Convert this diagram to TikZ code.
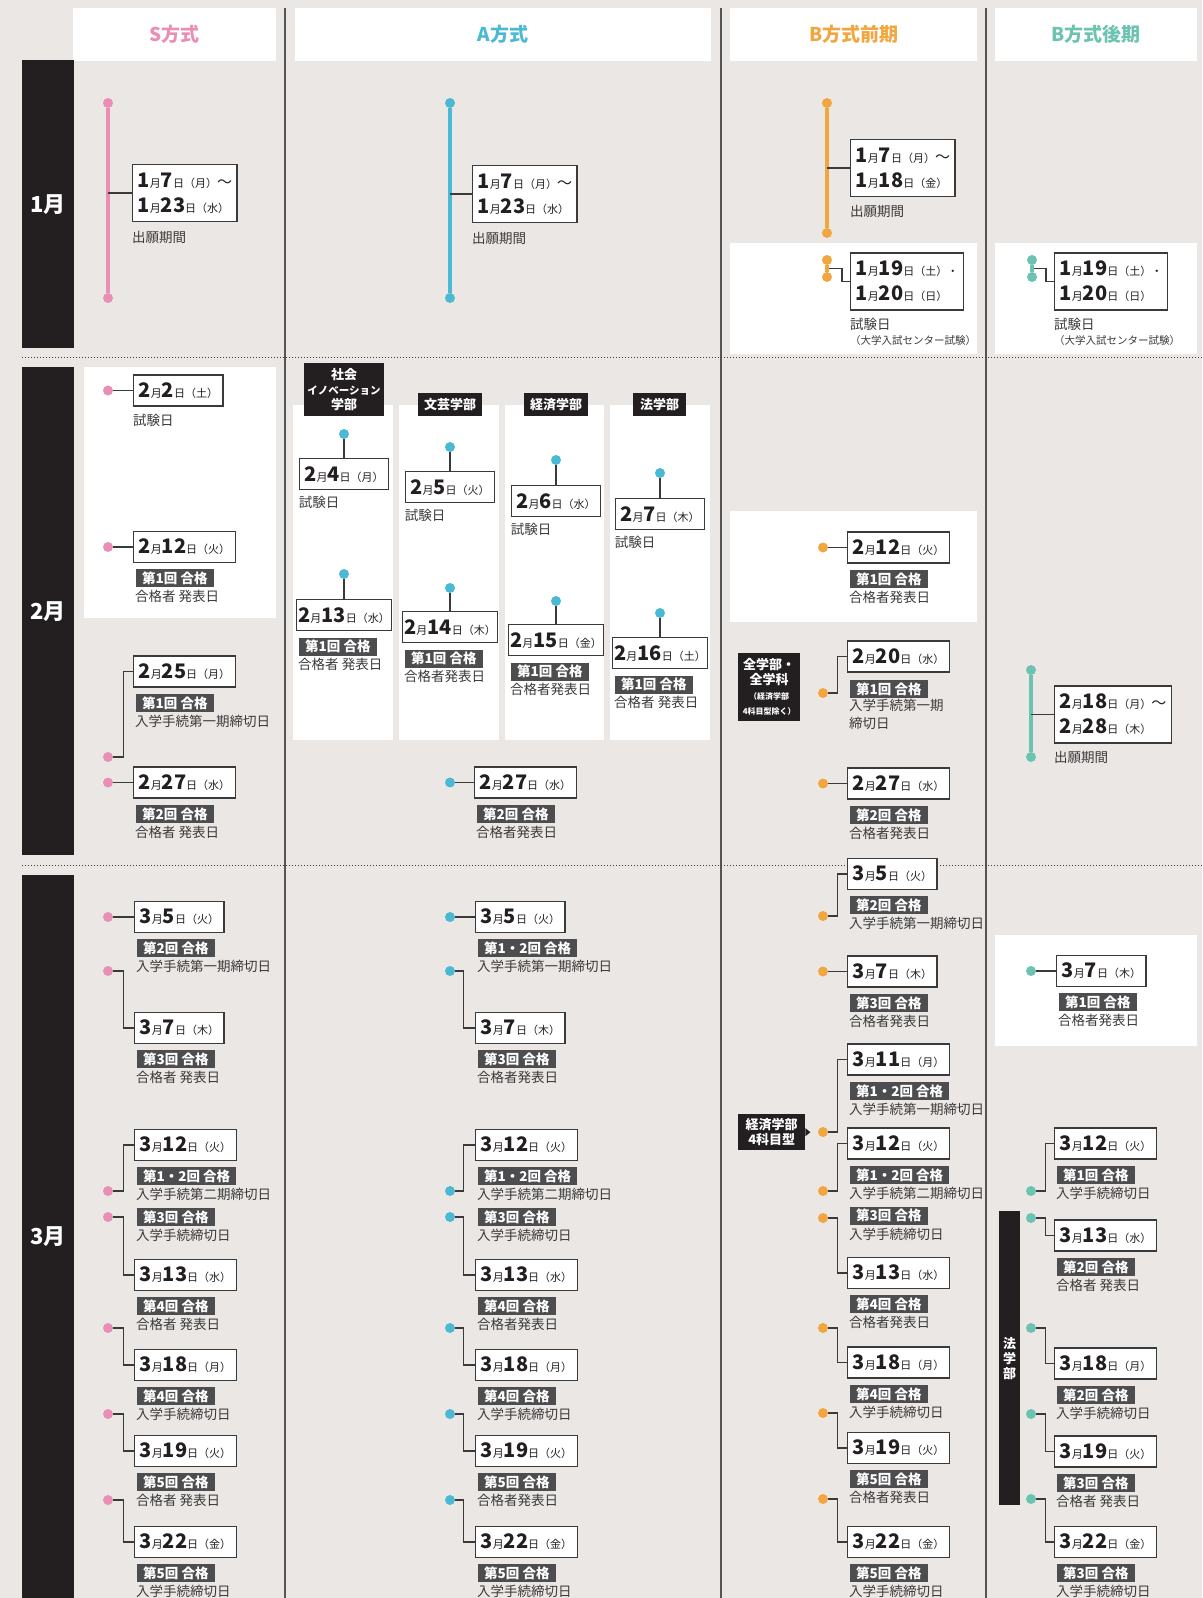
\documentclass[tikz,border=0pt]{standalone}
\usepackage{fontspec}
\setmainfont{Noto Sans CJK JP}
\usetikzlibrary{positioning}

\definecolor{bgc}{HTML}{EBE7E4}
\definecolor{pinkc}{HTML}{E98FB6}
\definecolor{bluec}{HTML}{4BB9D3}
\definecolor{orangec}{HTML}{F2A640}
\definecolor{tealc}{HTML}{6CC3B2}
\definecolor{inkc}{HTML}{231F20}
\definecolor{linec}{HTML}{3A3A3A}
\definecolor{badgec}{HTML}{4D4D4F}
\definecolor{sepc}{HTML}{555555}

\newcommand\dbig{\fontsize{20}{25}\selectfont\bfseries}
\newcommand\dsm{\fontsize{11}{12}\selectfont\mdseries}
\newcommand\jdate[3]{{\dbig #1}{\dsm 月}{\dbig #2}{\dsm 日（#3）}}
\newcommand\jtil{{\fontsize{15}{15}\selectfont\mdseries 〜}}
\newcommand\memofont{\fontsize{13.5}{18}\selectfont}
\newcommand\badgefont{\fontsize{13.5}{14}\selectfont\bfseries}
% badge + note under a date box
\newcommand\passnote[3]{%
  \node[badge] (#1g) at ([xshift=3pt,yshift=-6pt]#1.south west) {#2};
  \node[memo] (#1n) at ([xshift=-1pt,yshift=-9pt]#1g.south west) {#3};}
% second badge + note under the first note
\newcommand\passmore[3]{%
  \node[badge] (#1h) at ([xshift=1pt,yshift=-7pt]#1n.south west) {#2};
  \node[memo] (#1m) at ([xshift=-1pt,yshift=-9pt]#1h.south west) {#3};}

\tikzset{
  datebox/.style={draw=linec, line width=1.4pt, fill=white, text=inkc, font=\dbig,
    inner xsep=5pt, inner ysep=0pt, minimum height=31pt, anchor=west},
  rangebox/.style={datebox, align=left, minimum height=57pt},
  badge/.style={fill=badgec, text=white, font=\badgefont, inner xsep=6pt, inner ysep=0pt,
    minimum height=18pt, anchor=north west},
  memo/.style={text=linec, font=\memofont, inner sep=0pt, anchor=west, align=left},
  evdot/.style={circle, inner sep=0pt, minimum size=10pt},
  conn/.style={draw=linec, line width=1.2pt},
  period/.style={line width=4pt},
  deptab/.style={fill=inkc, text=white, font=\fontsize{13}{15}\selectfont\bfseries,
    inner sep=0pt, align=center},
  headbox/.style={fill=white, font=\fontsize{19}{20}\selectfont\bfseries,
    minimum height=53pt, anchor=north west},
  monthbar/.style={fill=inkc, text=white, font=\fontsize{22}{24}\selectfont\bfseries,
    minimum width=52pt, anchor=north west},
  colsep/.style={draw=sepc, line width=1.5pt},
  rowsep/.style={draw=linec, line width=1pt, dotted},
}

\begin{document}
\begin{tikzpicture}[x=1pt,y=-1pt]
\useasboundingbox (0,0) rectangle (1202,1598);
\fill[bgc] (0,0) rectangle (1202,1598);

% white panels
\fill[white] (84,367) rectangle (276,618);
\fill[white] (293,405) rectangle (393,740);
\fill[white] (399,405) rectangle (499,740);
\fill[white] (505,405) rectangle (604,740);
\fill[white] (610,405) rectangle (710,740);
\fill[white] (730,243) rectangle (977,354);
\fill[white] (995,243) rectangle (1197,354);
\fill[white] (730,511) rectangle (977,622);
\fill[white] (995,935) rectangle (1197,1046);

% grid
\draw[colsep] (285,8) -- (285,1598);
\draw[colsep] (721,8) -- (721,1598);
\draw[colsep] (986,8) -- (986,1598);
\draw[rowsep] (22,357) -- (1202,357);
\draw[rowsep] (22,865) -- (1202,865);

% headers
\node[headbox, text=pinkc, minimum width=203pt] (hs) at (73,8) {S方式};
\node[headbox, text=bluec, minimum width=416pt] (ha) at (295,8) {A方式};
\node[headbox, text=orangec, minimum width=247pt] (hb1) at (730,8) {B方式前期};
\node[headbox, text=tealc, minimum width=202pt] (hb2) at (995,8) {B方式後期};

% months
\node[monthbar, minimum height=288pt] (m1) at (22,60) {1月};
\node[monthbar, minimum height=488pt] (m2) at (22,367) {2月};
\node[monthbar, minimum height=723pt] (m3) at (22,875) {3月};

% ---------- January ----------
\node[evdot, fill=pinkc] (s1a) at (108,103) {};
\node[evdot, fill=pinkc] (s1b) at (108,298) {};
\draw[period, pinkc] (s1a) -- (s1b);
\node[rangebox] (s1) at (132,193) {\jdate{1}{7}{月}\jtil\\\jdate{1}{23}{水}};
\draw[conn] (s1.west -| s1a) -- (s1.west);
\node[memo] (s1n) at ([yshift=-15pt]s1.south west) {出願期間};

\node[evdot, fill=bluec] (a1a) at (450,103) {};
\node[evdot, fill=bluec] (a1b) at (450,298) {};
\draw[period, bluec] (a1a) -- (a1b);
\node[rangebox] (a1) at (472,194) {\jdate{1}{7}{月}\jtil\\\jdate{1}{23}{水}};
\draw[conn] (a1.west -| a1a) -- (a1.west);
\node[memo] (a1n) at ([yshift=-15pt]a1.south west) {出願期間};

\node[evdot, fill=orangec] (b1a) at (827,103) {};
\node[evdot, fill=orangec] (b1b) at (827,233) {};
\draw[period, orangec] (b1a) -- (b1b);
\node[rangebox] (b1) at (850,168) {\jdate{1}{7}{月}\jtil\\\jdate{1}{18}{金}};
\draw[conn] (b1.west -| b1a) -- (b1.west);
\node[memo] (b1n) at ([yshift=-14pt]b1.south west) {出願期間};

\node[rangebox] (b2) at (850,281.5) {\jdate{1}{19}{土}{\dsm ・}\\\jdate{1}{20}{日}};
\coordinate (b2m) at (829,268.5);
\draw[conn] (b2m) -- ++(13,0) |- (b2.west);
\node[evdot, fill=orangec] (b2a) at (827,260) {};
\node[evdot, fill=orangec] (b2b) at (827,277) {};
\draw[period, orangec] (b2a) -- (b2b);
\node[memo] (b2n) at ([yshift=-14pt]b2.south west) {試験日};
\node[memo, font=\fontsize{10.5}{12}\selectfont] (b2p) at ([yshift=-30pt]b2.south west) {（大学入試センター試験）};

\node[rangebox] (c1) at (1054,281.5) {\jdate{1}{19}{土}{\dsm ・}\\\jdate{1}{20}{日}};
\coordinate (c1m) at (1034,268.5);
\draw[conn] (c1m) -- ++(12,0) |- (c1.west);
\node[evdot, fill=tealc] (c1a) at (1032,260) {};
\node[evdot, fill=tealc] (c1b) at (1032,277) {};
\draw[period, tealc] (c1a) -- (c1b);
\node[memo] (c1n) at ([yshift=-14pt]c1.south west) {試験日};
\node[memo, font=\fontsize{10.5}{12}\selectfont] (c1p) at ([yshift=-30pt]c1.south west) {（大学入試センター試験）};

% ---------- February ----------
% S
\node[datebox] (s2) at (133,390.5) {\jdate{2}{2}{土}};
\node[evdot, fill=pinkc] (s2d) at (108,390.5) {};
\draw[conn] (s2d) -- (s2.west);
\node[memo] (s2n) at ([yshift=-14pt]s2.south west) {試験日};

\node[datebox] (s3) at (133,547) {\jdate{2}{12}{火}};
\node[evdot, fill=pinkc] (s3d) at (108,547) {};
\draw[conn] (s3d) -- (s3.west);
\passnote{s3}{第1回 合格}{合格者 発表日}

\node[datebox] (s4) at (133,671.5) {\jdate{2}{25}{月}};
\node[evdot, fill=pinkc] (s4d) at (108,757) {};
\draw[conn] (s4d.east) -- ++(10,0) |- (s4.west);
\passnote{s4}{第1回 合格}{入学手続第一期締切日}

\node[datebox] (s5) at (133,782.5) {\jdate{2}{27}{水}};
\node[evdot, fill=pinkc] (s5d) at (108,782.5) {};
\draw[conn] (s5d) -- (s5.west);
\passnote{s5}{第2回 合格}{合格者 発表日}

% A, by faculty
\node[deptab, minimum width=80pt, minimum height=53pt] (t1) at (344,389.5) {社会\\{\fontsize{10.5}{13}\selectfont イノベーション}\\学部};
\node[deptab, minimum width=64pt, minimum height=23pt] (t2) at (450,404.5) {文芸学部};
\node[deptab, minimum width=64pt, minimum height=23pt] (t3) at (556,404.5) {経済学部};
\node[deptab, minimum width=53pt, minimum height=23pt] (t4) at (659.5,404.5) {法学部};

\node[evdot, fill=bluec] (f1d) at (344,434) {};
\node[datebox, anchor=north] (f1) at (344,458) {\jdate{2}{4}{月}};
\draw[conn] (f1d) -- (f1.north);
\node[memo] (f1n) at ([yshift=-12pt]f1.south west) {試験日};
\node[evdot, fill=bluec] (g1d) at (344,574) {};
\node[datebox, anchor=north, inner xsep=1.5pt] (g1) at (344,599) {\jdate{2}{13}{水}};
\draw[conn] (g1d) -- (g1.north);
\passnote{g1}{第1回 合格}{合格者 発表日}

\node[evdot, fill=bluec] (f2d) at (450,447) {};
\node[datebox, anchor=north] (f2) at (450,471) {\jdate{2}{5}{火}};
\draw[conn] (f2d) -- (f2.north);
\node[memo] (f2n) at ([yshift=-12pt]f2.south west) {試験日};
\node[evdot, fill=bluec] (g2d) at (450,588) {};
\node[datebox, anchor=north, inner xsep=1.5pt] (g2) at (450,611) {\jdate{2}{14}{木}};
\draw[conn] (g2d) -- (g2.north);
\passnote{g2}{第1回 合格}{合格者発表日}

\node[evdot, fill=bluec] (f3d) at (556,460) {};
\node[datebox, anchor=north] (f3) at (556,485) {\jdate{2}{6}{水}};
\draw[conn] (f3d) -- (f3.north);
\node[memo] (f3n) at ([yshift=-12pt]f3.south west) {試験日};
\node[evdot, fill=bluec] (g3d) at (556,601) {};
\node[datebox, anchor=north, inner xsep=1.5pt] (g3) at (556,624) {\jdate{2}{15}{金}};
\draw[conn] (g3d) -- (g3.north);
\passnote{g3}{第1回 合格}{合格者発表日}

\node[evdot, fill=bluec] (f4d) at (660,473) {};
\node[datebox, anchor=north] (f4) at (660,498) {\jdate{2}{7}{木}};
\draw[conn] (f4d) -- (f4.north);
\node[memo] (f4n) at ([yshift=-12pt]f4.south west) {試験日};
\node[evdot, fill=bluec] (g4d) at (660,613) {};
\node[datebox, anchor=north, inner xsep=1.5pt] (g4) at (660,637) {\jdate{2}{16}{土}};
\draw[conn] (g4d) -- (g4.north);
\passnote{g4}{第1回 合格}{合格者 発表日}

\node[datebox] (a2) at (474,782.5) {\jdate{2}{27}{水}};
\node[evdot, fill=bluec] (a2d) at (450,782.5) {};
\draw[conn] (a2d) -- (a2.west);
\passnote{a2}{第2回 合格}{合格者発表日}

% B early
\node[datebox] (b3) at (847,547.5) {\jdate{2}{12}{火}};
\node[evdot, fill=orangec] (b3d) at (823,547.5) {};
\draw[conn] (b3d) -- (b3.west);
\passnote{b3}{第1回 合格}{合格者発表日}

\node[deptab, minimum width=62pt, minimum height=68pt, anchor=north west] (k1) at (738,653)
  {全学部・\\全学科\\{\fontsize{8}{9}\selectfont （経済学部}\\{\fontsize{8}{9}\selectfont 4科目型除く）}};
\node[datebox] (b4) at (847,656.5) {\jdate{2}{20}{水}};
\node[evdot, fill=orangec] (b4d) at (823,693) {};
\draw[conn] (b4d.east) -- ++(9,0) |- (b4.west);
\node[badge] (b4g) at ([xshift=3pt,yshift=-7pt]b4.south west) {第1回 合格};
\node[memo, anchor=north west] (b4n) at ([xshift=-1pt,yshift=-1pt]b4g.south west) {入学手続第一期\\締切日};

\node[datebox] (b5) at (847,783.5) {\jdate{2}{27}{水}};
\node[evdot, fill=orangec] (b5d) at (823,783.5) {};
\draw[conn] (b5d) -- (b5.west);
\passnote{b5}{第2回 合格}{合格者発表日}

% B late
\node[evdot, fill=tealc] (c2a) at (1031,670) {};
\node[evdot, fill=tealc] (c2b) at (1031,757) {};
\draw[period, tealc] (c2a) -- (c2b);
\node[rangebox] (c2) at (1054,714.5) {\jdate{2}{18}{月}\jtil\\\jdate{2}{28}{木}};
\draw[conn] (c2.west -| c2a) -- (c2.west);
\node[memo] (c2n) at ([yshift=-14pt]c2.south west) {出願期間};

% ---------- March ----------
% S
\node[datebox] (s6) at (134,917) {\jdate{3}{5}{火}};
\node[evdot, fill=pinkc] (s6d) at (108,917) {};
\draw[conn] (s6d) -- (s6.west);
\passnote{s6}{第2回 合格}{入学手続第一期締切日}

\node[datebox] (s7) at (134,1028) {\jdate{3}{7}{木}};
\node[evdot, fill=pinkc] (s7d) at (108,971) {};
\draw[conn] (s7d.east) -- ++(10,0) |- (s7.west);
\passnote{s7}{第3回 合格}{合格者 発表日}

\node[datebox] (s8) at (134,1145) {\jdate{3}{12}{火}};
\node[evdot, fill=pinkc] (s8d) at (108,1191) {};
\draw[conn] (s8d.east) -- ++(10,0) |- (s8.west);
\passnote{s8}{第1・2回 合格}{入学手続第二期締切日}
\passmore{s8}{第3回 合格}{入学手続締切日}

\node[datebox] (s9) at (134,1275) {\jdate{3}{13}{水}};
\node[evdot, fill=pinkc] (s9d) at (108,1217) {};
\draw[conn] (s9d.east) -- ++(10,0) |- (s9.west);
\passnote{s9}{第4回 合格}{合格者 発表日}

\node[datebox] (s10) at (134,1365) {\jdate{3}{18}{月}};
\node[evdot, fill=pinkc] (s10d) at (108,1328) {};
\draw[conn] (s10d.east) -- ++(10,0) |- (s10.west);
\passnote{s10}{第4回 合格}{入学手続締切日}

\node[datebox] (s11) at (134,1451) {\jdate{3}{19}{火}};
\node[evdot, fill=pinkc] (s11d) at (108,1414) {};
\draw[conn] (s11d.east) -- ++(10,0) |- (s11.west);
\passnote{s11}{第5回 合格}{合格者 発表日}

\node[datebox] (s12) at (134,1542) {\jdate{3}{22}{金}};
\node[evdot, fill=pinkc] (s12d) at (108,1500) {};
\draw[conn] (s12d.east) -- ++(10,0) |- (s12.west);
\passnote{s12}{第5回 合格}{入学手続締切日}

% A
\node[datebox] (a6) at (475,917) {\jdate{3}{5}{火}};
\node[evdot, fill=bluec] (a6d) at (450,917) {};
\draw[conn] (a6d) -- (a6.west);
\passnote{a6}{第1・2回 合格}{入学手続第一期締切日}

\node[datebox] (a7) at (475,1028) {\jdate{3}{7}{木}};
\node[evdot, fill=bluec] (a7d) at (450,971) {};
\draw[conn] (a7d.east) -- ++(8,0) |- (a7.west);
\passnote{a7}{第3回 合格}{合格者発表日}

\node[datebox] (a8) at (475,1145) {\jdate{3}{12}{火}};
\node[evdot, fill=bluec] (a8d) at (450,1191) {};
\draw[conn] (a8d.east) -- ++(8,0) |- (a8.west);
\passnote{a8}{第1・2回 合格}{入学手続第二期締切日}
\passmore{a8}{第3回 合格}{入学手続締切日}

\node[datebox] (a9) at (475,1275) {\jdate{3}{13}{水}};
\node[evdot, fill=bluec] (a9d) at (450,1217) {};
\draw[conn] (a9d.east) -- ++(8,0) |- (a9.west);
\passnote{a9}{第4回 合格}{合格者発表日}

\node[datebox] (a10) at (475,1365) {\jdate{3}{18}{月}};
\node[evdot, fill=bluec] (a10d) at (450,1328) {};
\draw[conn] (a10d.east) -- ++(8,0) |- (a10.west);
\passnote{a10}{第4回 合格}{入学手続締切日}

\node[datebox] (a11) at (475,1451) {\jdate{3}{19}{火}};
\node[evdot, fill=bluec] (a11d) at (450,1414) {};
\draw[conn] (a11d.east) -- ++(8,0) |- (a11.west);
\passnote{a11}{第5回 合格}{合格者発表日}

\node[datebox] (a12) at (475,1542) {\jdate{3}{22}{金}};
\node[evdot, fill=bluec] (a12d) at (450,1500) {};
\draw[conn] (a12d.east) -- ++(8,0) |- (a12.west);
\passnote{a12}{第5回 合格}{入学手続締切日}

% B early
\node[datebox] (b6) at (847,874) {\jdate{3}{5}{火}};
\node[evdot, fill=orangec] (b6d) at (823,916) {};
\draw[conn] (b6d.east) -- ++(9,0) |- (b6.west);
\passnote{b6}{第2回 合格}{入学手続第一期締切日}

\node[datebox] (b7) at (847,971.5) {\jdate{3}{7}{木}};
\node[evdot, fill=orangec] (b7d) at (823,971.5) {};
\draw[conn] (b7d) -- (b7.west);
\passnote{b7}{第3回 合格}{合格者発表日}

\node[deptab, minimum width=67pt, minimum height=36pt, anchor=north west] (k2) at (738,1114) {経済学部\\4科目型};
\fill[inkc] ([yshift=4pt]k2.east) -- ([xshift=5pt]k2.east) -- ([yshift=-4pt]k2.east) -- cycle;
\node[datebox] (b8) at (847,1059.5) {\jdate{3}{11}{月}};
\node[evdot, fill=orangec] (b8d) at (823,1132) {};
\draw[conn] (b8d.east) -- ++(9,0) |- (b8.west);
\passnote{b8}{第1・2回 合格}{入学手続第一期締切日}

\node[datebox] (b9) at (847,1143.5) {\jdate{3}{12}{火}};
\node[evdot, fill=orangec] (b9d) at (823,1191) {};
\draw[conn] (b9d.east) -- ++(9,0) |- (b9.west);
\passnote{b9}{第1・2回 合格}{入学手続第二期締切日}
\passmore{b9}{第3回 合格}{入学手続締切日}

\node[datebox] (b10) at (847,1273) {\jdate{3}{13}{水}};
\node[evdot, fill=orangec] (b10d) at (823,1218) {};
\draw[conn] (b10d.east) -- ++(9,0) |- (b10.west);
\passnote{b10}{第4回 合格}{合格者発表日}

\node[datebox] (b11) at (847,1362.5) {\jdate{3}{18}{月}};
\node[evdot, fill=orangec] (b11d) at (823,1328) {};
\draw[conn] (b11d.east) -- ++(9,0) |- (b11.west);
\passnote{b11}{第4回 合格}{入学手続締切日}

\node[datebox] (b12) at (847,1448) {\jdate{3}{19}{火}};
\node[evdot, fill=orangec] (b12d) at (823,1413) {};
\draw[conn] (b12d.east) -- ++(9,0) |- (b12.west);
\passnote{b12}{第5回 合格}{合格者発表日}

\node[datebox] (b13) at (847,1542) {\jdate{3}{22}{金}};
\node[evdot, fill=orangec] (b13d) at (823,1499) {};
\draw[conn] (b13d.east) -- ++(9,0) |- (b13.west);
\passnote{b13}{第5回 合格}{入学手続締切日}

% B late
\node[datebox] (c3) at (1056,971) {\jdate{3}{7}{木}};
\node[evdot, fill=tealc] (c3d) at (1031,971) {};
\draw[conn] (c3d) -- (c3.west);
\passnote{c3}{第1回 合格}{合格者発表日}

\node[deptab, minimum width=21pt, minimum height=294pt, anchor=north west] (k3) at (999,1211) {法\\学\\部};

\node[datebox] (c4) at (1054,1143.5) {\jdate{3}{12}{火}};
\node[evdot, fill=tealc] (c4d) at (1031,1191) {};
\draw[conn] (c4d.east) -- ++(9,0) |- (c4.west);
\passnote{c4}{第1回 合格}{入学手続締切日}

\node[datebox] (c5) at (1054,1235.5) {\jdate{3}{13}{水}};
\node[evdot, fill=tealc] (c5d) at (1031,1218) {};
\draw[conn] (c5d.east) -- ++(9,0) |- (c5.west);
\passnote{c5}{第2回 合格}{合格者 発表日}

\node[datebox] (c6) at (1054,1363.5) {\jdate{3}{18}{月}};
\node[evdot, fill=tealc] (c6d) at (1031,1328) {};
\draw[conn] (c6d.east) -- ++(9,0) |- (c6.west);
\passnote{c6}{第2回 合格}{入学手続締切日}

\node[datebox] (c7) at (1054,1451.5) {\jdate{3}{19}{火}};
\node[evdot, fill=tealc] (c7d) at (1031,1414) {};
\draw[conn] (c7d.east) -- ++(9,0) |- (c7.west);
\passnote{c7}{第3回 合格}{合格者 発表日}

\node[datebox] (c8) at (1054,1542) {\jdate{3}{22}{金}};
\node[evdot, fill=tealc] (c8d) at (1031,1499) {};
\draw[conn] (c8d.east) -- ++(9,0) |- (c8.west);
\passnote{c8}{第3回 合格}{入学手続締切日}
\end{tikzpicture}
\end{document}
